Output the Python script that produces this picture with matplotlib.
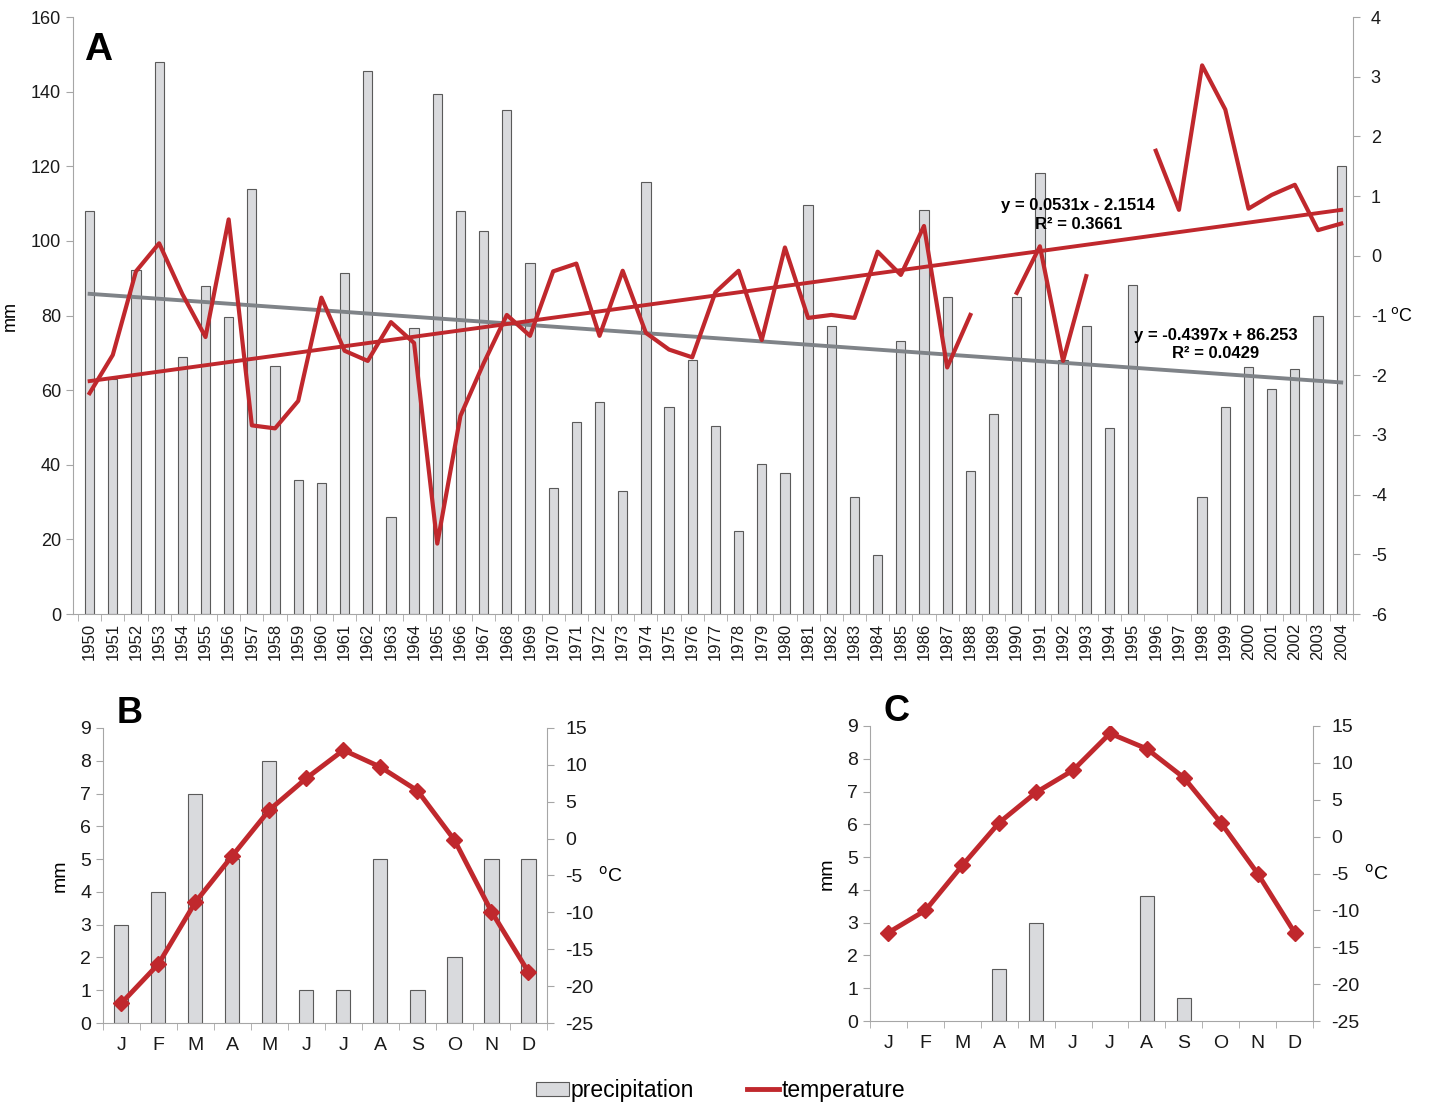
import matplotlib
matplotlib.use("Agg")
import matplotlib.pyplot as plt
import matplotlib.patches as mpatches
import matplotlib.lines as mlines
import numpy as np

plt.rcParams['font.family'] = ['Liberation Sans', 'DejaVu Sans']
plt.rcParams['axes.unicode_minus'] = False

# --- data -------------------------------------------------------------
years = list(range(1950, 2005))
precip = [108, 63, 92.3, 148, 68.8, 87.8, 79.7, 114, 66.6, 36,
          35.1, 91.4, 145.4, 26.1, 76.6, 139.3, 107.9, 102.7, 135, 94.2,
          33.7, 51.4, 56.9, 32.9, 115.7, 55.4, 68, 50.3, 22.3, 40.3,
          37.7, 109.6, 77.1, 31.3, 15.8, 73.3, 108.3, 85.1, 38.3, 53.6,
          84.9, 118.2, 68, 77.1, 49.9, 88.1, 0, 0, 31.4, 55.4,
          66.3, 60.3, 65.6, 80, 120.2]
nan = np.nan
temp = [-2.3, -1.66, -0.26, 0.21, -0.64, -1.36, 0.61, -2.84, -2.89, -2.43,
        -0.7, -1.59, -1.76, -1.11, -1.46, -4.82, -2.68, -1.8, -0.99, -1.34,
        -0.26, -0.13, -1.34, -0.25, -1.29, -1.57, -1.7, -0.61, -0.25, -1.41,
        0.14, -1.04, -0.99, -1.04, 0.07, -0.32, 0.5, -1.87, -0.99, nan,
        -0.62, 0.16, -1.76, -0.34, nan, nan, 1.76, 0.77, 3.19, 2.45,
        0.79, 1.02, 1.19, 0.43, 0.54]

# linear trends as printed on the chart (x = 1..55)
temp_slope, temp_icept, temp_r2 = 0.0531, -2.1514, 0.3661
prec_slope, prec_icept, prec_r2 = -0.4397, 86.253, 0.0429

months = ['J', 'F', 'M', 'A', 'M', 'J', 'J', 'A', 'S', 'O', 'N', 'D']
precip_b = [3, 4, 7, 5, 8, 1, 1, 5, 1, 2, 5, 5]
temp_b = [-22.3, -17, -8.6, -2.3, 3.9, 8.2, 12, 9.7, 6.5, -0.2, -9.9, -18.1]
precip_c = [0, 0, 0, 1.6, 3, 0, 0, 3.8, 0.7, 0, 0, 0]
temp_c = [-13, -10, -3.9, 1.9, 6, 9, 14, 11.9, 8, 1.9, -5, -13]

# --- style ------------------------------------------------------------
bar_face = '#d9dadd'
bar_edge = '#5a5a5a'
red = '#c0282d'
trend_gray = '#7f8388'
axis_gray = '#a6a6a6'
degC = r'$^{\rm o}$C'


def style_axes(ax, ax2):
    for a in (ax, ax2):
        a.spines['top'].set_visible(False)
        for s in ('left', 'right', 'bottom'):
            a.spines[s].set_color(axis_gray)
        a.tick_params(colors=axis_gray, labelcolor='#1a1a1a')
    ax.spines['right'].set_visible(False)
    ax2.spines['left'].set_visible(False)
    ax2.spines['bottom'].set_visible(False)


def draw_bars(ax, pos, heights, width):
    # empty months / years get no bar at all (no flat outline)
    pos = np.asarray(pos)
    h = np.asarray(heights, dtype=float)
    keep = h > 0
    ax.bar(pos[keep], h[keep], width=width, color=bar_face,
           edgecolor=bar_edge, linewidth=0.8, zorder=2)


fig = plt.figure(figsize=(14.3, 11.05), dpi=100)

# --- panel A ----------------------------------------------------------
axA = fig.add_axes([0.051, 0.4443, 0.895, 0.5403])
axA2 = axA.twinx()
x = np.arange(len(years))
draw_bars(axA, x, precip, 0.4)
axA.set_ylim(0, 160)
axA.set_yticks(range(0, 161, 20))
axA.set_xlim(-0.72, len(years) - 0.5)
axA.set_xticks(x)
axA.set_xticklabels([str(y) for y in years], rotation=90, fontsize=12)
axA.set_xticks(np.arange(-0.5, len(years)), minor=True)
axA.tick_params(axis='x', which='major', length=0, pad=6)
axA.tick_params(axis='x', which='minor', length=5, color=axis_gray)
axA.tick_params(axis='y', labelsize=13, length=5)
axA.set_ylabel('mm', fontsize=13)
axA.yaxis.set_label_coords(-0.042, 0.5)

xs = np.array([1, len(years)])
axA.plot(xs - 1, prec_slope * xs + prec_icept, color=trend_gray, lw=2.8, zorder=3)

axA2.plot(x, temp, color=red, lw=3, zorder=4)
axA2.plot(xs - 1, temp_slope * xs + temp_icept, color=red, lw=2.8, zorder=4)
axA2.set_ylim(-6, 4)
axA2.set_yticks(range(-6, 5))
axA2.tick_params(axis='y', labelsize=13, length=5, pad=8)
axA2.text(1.029, 0.5, degC, transform=axA2.transAxes, fontsize=13, va='center', ha='left')
style_axes(axA, axA2)

axA2.text(42.65, 0.85, 'y = 0.0531x - 2.1514', fontsize=12, fontweight='bold', ha='center', va='center')
axA2.text(42.65, 0.53, 'R\u00b2 = 0.3661', fontsize=12, fontweight='bold', ha='center', va='center')
axA2.text(48.6, -1.33, 'y = -0.4397x + 86.253', fontsize=12, fontweight='bold', ha='center', va='center')
axA2.text(48.6, -1.64, 'R\u00b2 = 0.0429', fontsize=12, fontweight='bold', ha='center', va='center')
axA.text(0.009, 0.975, 'A', transform=axA.transAxes, fontsize=28, fontweight='bold', va='top', ha='left')


# --- panels B and C ---------------------------------------------------
def month_panel(rect, pr, tm, letter):
    ax = fig.add_axes(rect)
    ax2 = ax.twinx()
    m = np.arange(12)
    draw_bars(ax, m, pr, 0.38)
    ax.set_xlim(-0.5, 11.5)
    ax.set_ylim(0, 9)
    ax.set_yticks(range(0, 10))
    ax.set_xticks(m)
    ax.set_xticklabels(months, fontsize=14)
    ax.set_xticks(np.arange(-0.5, 12), minor=True)
    ax.tick_params(axis='x', which='major', length=0, pad=10)
    ax.tick_params(axis='x', which='minor', length=5, color=axis_gray)
    ax.tick_params(axis='y', labelsize=14, length=5)
    ax.set_ylabel('mm', fontsize=14, labelpad=8)
    ax2.plot(m, tm, color=red, lw=3.5, marker='D', markersize=8, zorder=4)
    ax2.set_ylim(-25, 15)
    ax2.set_yticks(range(-25, 16, 5))
    ax2.tick_params(axis='y', labelsize=14, length=5, pad=8)
    ax2.text(1.115, 0.5, degC, transform=ax2.transAxes, fontsize=14, va='center', ha='left')
    style_axes(ax, ax2)
    ax.text(0.03, 1.11, letter, transform=ax.transAxes, fontsize=26, fontweight='bold', va='top', ha='left')
    return ax


month_panel([0.072, 0.0742, 0.3105, 0.267], precip_b, temp_b, 'B')
month_panel([0.6084, 0.076, 0.3098, 0.267], precip_c, temp_c, 'C')

# --- legend -----------------------------------------------------------
h_bar = mpatches.Patch(facecolor=bar_face, edgecolor=bar_edge, linewidth=0.8, label='precipitation')
h_line = mlines.Line2D([], [], color=red, lw=3.5, label='temperature')
fig.legend(handles=[h_bar, h_line], loc='center', bbox_to_anchor=(0.504, 0.013),
           ncol=2, frameon=False, fontsize=16.5, handlelength=1.4, handleheight=0.6,
           handletextpad=0.1, columnspacing=2.3)

fig.savefig('out.png', dpi=100)
